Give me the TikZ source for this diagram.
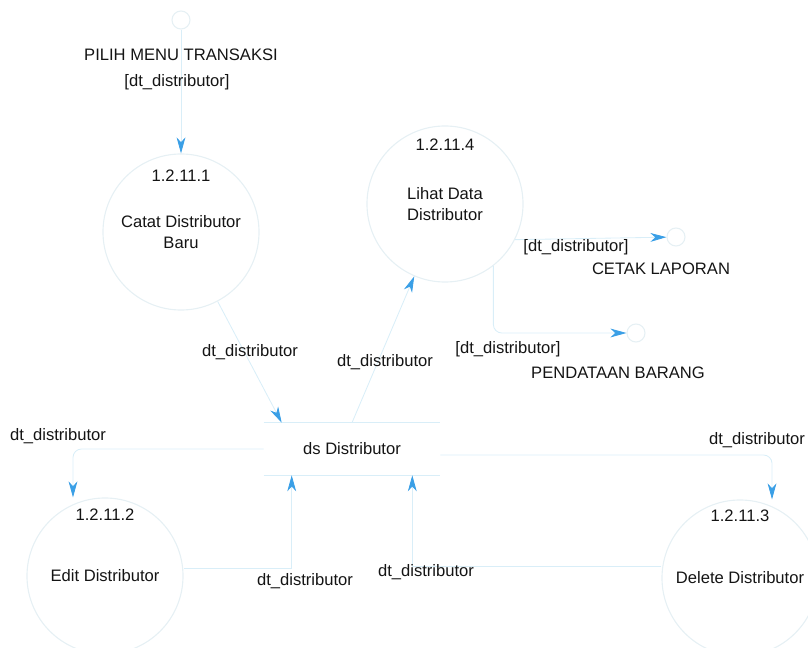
\documentclass[tikz,border=0pt]{standalone}
\usepackage{fontspec}
\setmainfont{Liberation Sans}
\usepackage{xcolor}
\usepackage{tikz}
\usetikzlibrary{arrows.meta,positioning,calc}
\definecolor{ink}{HTML}{141414}
\definecolor{flowline}{HTML}{D9EEF8}
\definecolor{tipblue}{HTML}{3A9FE6}
\definecolor{rim}{HTML}{E6F0F4}

\begin{document}
\begin{tikzpicture}[
  x=0.025cm, y=-0.025cm,
  font=\fontsize{11.8}{15}\selectfont,
  proc/.style={circle, draw=rim, line width=0.8pt, minimum size=3.9cm, align=center, text=ink, inner sep=0pt},
  ext/.style={circle, draw=rim, line width=0.8pt, minimum size=0.45cm, inner sep=0pt},
  num/.style={text=ink, inner sep=1pt},
  lbl/.style={text=ink, inner sep=1pt},
  store/.style={minimum width=4.4cm, minimum height=1.3cm, inner sep=0pt, text=ink},
  storeline/.style={draw=flowline, line width=0.8pt},
  flow/.style={-{Stealth[length=4mm, width=2.2mm, inset=1.2mm, color=tipblue]}, line width=0.6pt, flowline}
]
  \useasboundingbox (0,0) rectangle (808,648);

  % external entities
  \node[ext] (mt) at (181,20) {};
  \node[lbl] (mtname) at (181,55) {PILIH MENU TRANSAKSI};
  \node[ext] (ce) at (676,237) {};
  \node[lbl] (cename) at (661,269) {CETAK LAPORAN};
  \node[ext] (pb) at (636,333) {};
  \node[lbl] (pbname) at (618,373) {PENDATAAN BARANG};

  % processes
  \node[proc] (p1) at (181,232) {Catat Distributor\\Baru};
  \node[num, below=0.38cm of p1.north] (n1) {1.2.11.1};
  \node[proc] (p4) at (445,204) {Lihat Data\\Distributor};
  \node[num, below=0.3cm of p4.north] (n4) {1.2.11.4};
  \node[proc] (p2) at (105,576) {Edit Distributor};
  \node[num, below=0.25cm of p2.north] (n2) {1.2.11.2};
  \node[proc] (p3) at (740,578) {Delete Distributor};
  \node[num, below=0.22cm of p3.north] (n3) {1.2.11.3};

  % data store
  \node[store] (ds) at (352,449) {ds Distributor};
  \draw[storeline] (ds.north west) -- (ds.north east) (ds.south west) -- (ds.south east);

  % flows
  \draw[flow] (mt) -- (p1);
  \draw[flow] (p1) -- ([xshift=0.45cm]ds.north west);
  \draw[flow] (ds.north) -- (p4);
  \draw[flow] (p4.-27) -- (ce);
  \draw[flow, rounded corners=6pt] (p4.-52) |- (pb);
  \draw[flow, rounded corners=6pt] (ds.west) -| ([xshift=-0.8cm]p2.north);
  \draw[flow, rounded corners=6pt] ([yshift=-0.15cm]ds.east) -| ([xshift=0.8cm]p3.north);
  \draw[flow] ([yshift=0.2cm]p2.east) -| ([xshift=0.7cm]ds.south west);
  \draw[flow] ([yshift=0.3cm]p3.west) -| ([xshift=-0.7cm]ds.south east);

  % flow labels
  \node[lbl] (f1) at (177,82) {[dt\_distributor]};
  \node[lbl] (f2) at (250,352) {dt\_distributor};
  \node[lbl] (f3) at (385,362) {dt\_distributor};
  \node[lbl] (f4) at (576,247) {[dt\_distributor]};
  \node[lbl] (f5) at (508,349) {[dt\_distributor]};
  \node[lbl] (f6) at (58,436) {dt\_distributor};
  \node[lbl] (f7) at (757,440) {dt\_distributor};
  \node[lbl] (f8) at (305,581) {dt\_distributor};
  \node[lbl] (f9) at (426,572) {dt\_distributor};
\end{tikzpicture}
\end{document}
